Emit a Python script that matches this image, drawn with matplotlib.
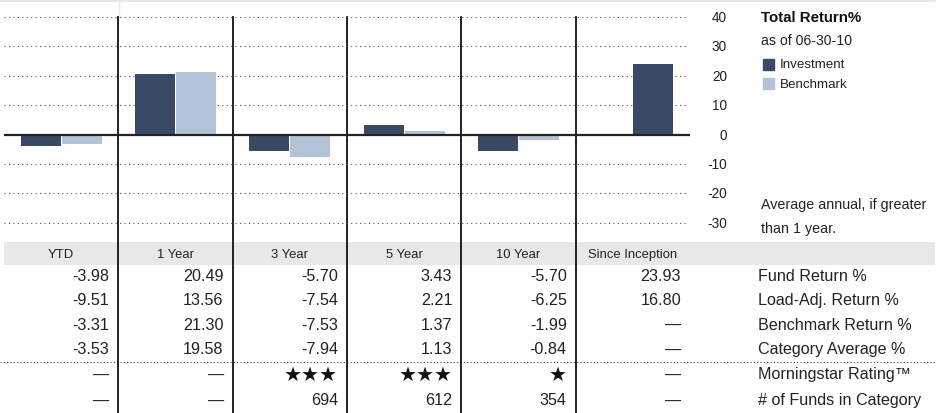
import matplotlib
matplotlib.use('Agg')
import matplotlib.pyplot as plt
from matplotlib.patches import Rectangle

plt.rcParams['font.family'] = ['Liberation Sans Narrow', 'Liberation Sans', 'DejaVu Sans']

periods = ['YTD', '1 Year', '3 Year', '5 Year', '10 Year', 'Since Inception']
fund_ret = [-3.98, 20.49, -5.70, 3.43, -5.70, 23.93]
load_adj = [-9.51, 13.56, -7.54, 2.21, -6.25, 16.80]
bench_ret = [-3.31, 21.30, -7.53, 1.37, -1.99, None]
cat_avg = [-3.53, 19.58, -7.94, 1.13, -0.84, None]
ratings = [None, None, 3, 3, 1, None]
n_funds = [None, None, 694, 612, 354, None]
row_labels = ['Fund Return %', 'Load-Adj. Return %', 'Benchmark Return %',
              'Category Average %', 'Morningstar Rating\u2122', '# of Funds in Category']
yticks = [40, 30, 20, 10, 0, -10, -20, -30]

INV = '#3a4966'
BEN = '#b2c3d8'
TXT = '#222222'
W, H = 939, 414

fig = plt.figure(figsize=(W / 100, H / 100), dpi=100)

# overlay in pixel coordinates for the table, dividers and text
bg = fig.add_axes([0, 0, 1, 1])
bg.set_xlim(0, W)
bg.set_ylim(H, 0)
bg.axis('off')

# bar chart area
x0, x1 = 4, 690
top, bot = 18, 240
colw = (x1 - x0) / 6
ax = fig.add_axes([x0 / W, 1 - bot / H, (x1 - x0) / W, (bot - top) / H])
ax.set_xlim(0, 6)
ax.set_ylim(40 - (bot - top) / 2.94, 40)
ax.axis('off')

for v in yticks:
    if v != 0:
        ax.axhline(v, color='#555555', lw=0.8, ls=(0, (1, 3)), xmax=0.997)
ax.axhline(0, color='#222222', lw=1.6, zorder=3)

bw = 0.35
for i in range(6):
    if bench_ret[i] is None:
        ax.bar(i + 0.5 + 0.18, fund_ret[i], bw, color=INV, zorder=2)
    else:
        ax.bar(i + 0.5 - 0.18, fund_ret[i], bw, color=INV, zorder=2)
        ax.bar(i + 0.5 + 0.18, bench_ret[i], bw, color=BEN, zorder=2)

# right-hand y labels
for v in yticks:
    py = top + (40 - v) * 2.94
    bg.text(727, py, str(v), ha='right', va='center', fontsize=9.8, color=TXT)

# top rule
bg.plot([0, 935], [1.5, 1.5], color='#e4e4e4', lw=1.2)
bg.plot([119, 119], [3, top], color='#ececec', lw=1)

# legend
bg.text(761, 18, 'Total Return%', fontsize=10.8, fontweight='bold', va='center', color='#111111')
bg.text(761, 41, 'as of 06-30-10', fontsize=10.2, va='center', color=TXT)
bg.add_patch(Rectangle((763, 60), 11, 11, color=INV))
bg.text(780, 65, 'Investment', fontsize=9.6, va='center', color=TXT)
bg.add_patch(Rectangle((763, 79), 11, 11, color=BEN))
bg.text(780, 85, 'Benchmark', fontsize=9.6, va='center', color=TXT)
bg.text(761, 205, 'Average annual, if greater', fontsize=10.3, va='center', color=TXT)
bg.text(761, 229, 'than 1 year.', fontsize=10.3, va='center', color=TXT)

# table header band
bg.add_patch(Rectangle((4, 243), 931, 23, color='#e8e8e8', lw=0))
for i, p in enumerate(periods):
    bg.text(x0 + (i + 0.5) * colw, 255, p, ha='center', va='center', fontsize=9.4, color=TXT)

# column dividers through chart and table
for i in range(1, 6):
    xx = x0 + i * colw
    bg.plot([xx, xx], [top, H], color='#111111', lw=1.3, zorder=5)

rows_y = [277, 301, 325.5, 350, 375, 401]
dash = '\u2014'


def fmt(v):
    return dash if v is None else f'{v:.2f}'


table = [fund_ret, load_adj, bench_ret, cat_avg]
for r, vals in enumerate(table):
    for i, v in enumerate(vals):
        bg.text(x0 + (i + 1) * colw - 9, rows_y[r], fmt(v), ha='right', va='center',
                fontsize=11.6, color=TXT)

for i, s in enumerate(ratings):
    xr = x0 + (i + 1) * colw - 9
    if s is None:
        bg.text(xr, rows_y[4], dash, ha='right', va='center', fontsize=11.6, color=TXT)
    else:
        bg.text(xr, rows_y[4], '\u2605' * s, ha='right', va='center', fontsize=14.5,
                color='#111111', family='DejaVu Sans')

for i, n in enumerate(n_funds):
    xr = x0 + (i + 1) * colw - 9
    bg.text(xr, rows_y[5], dash if n is None else str(n), ha='right', va='center',
            fontsize=11.6, color=TXT)

for r, lab in enumerate(row_labels):
    bg.text(758, rows_y[r], lab, ha='left', va='center', fontsize=11.6, color=TXT)

# dotted separator above ratings
bg.plot([0, 935], [363, 363], color='#444444', lw=0.8, ls=(0, (1, 2)))

fig.savefig('out.png', dpi=100)
